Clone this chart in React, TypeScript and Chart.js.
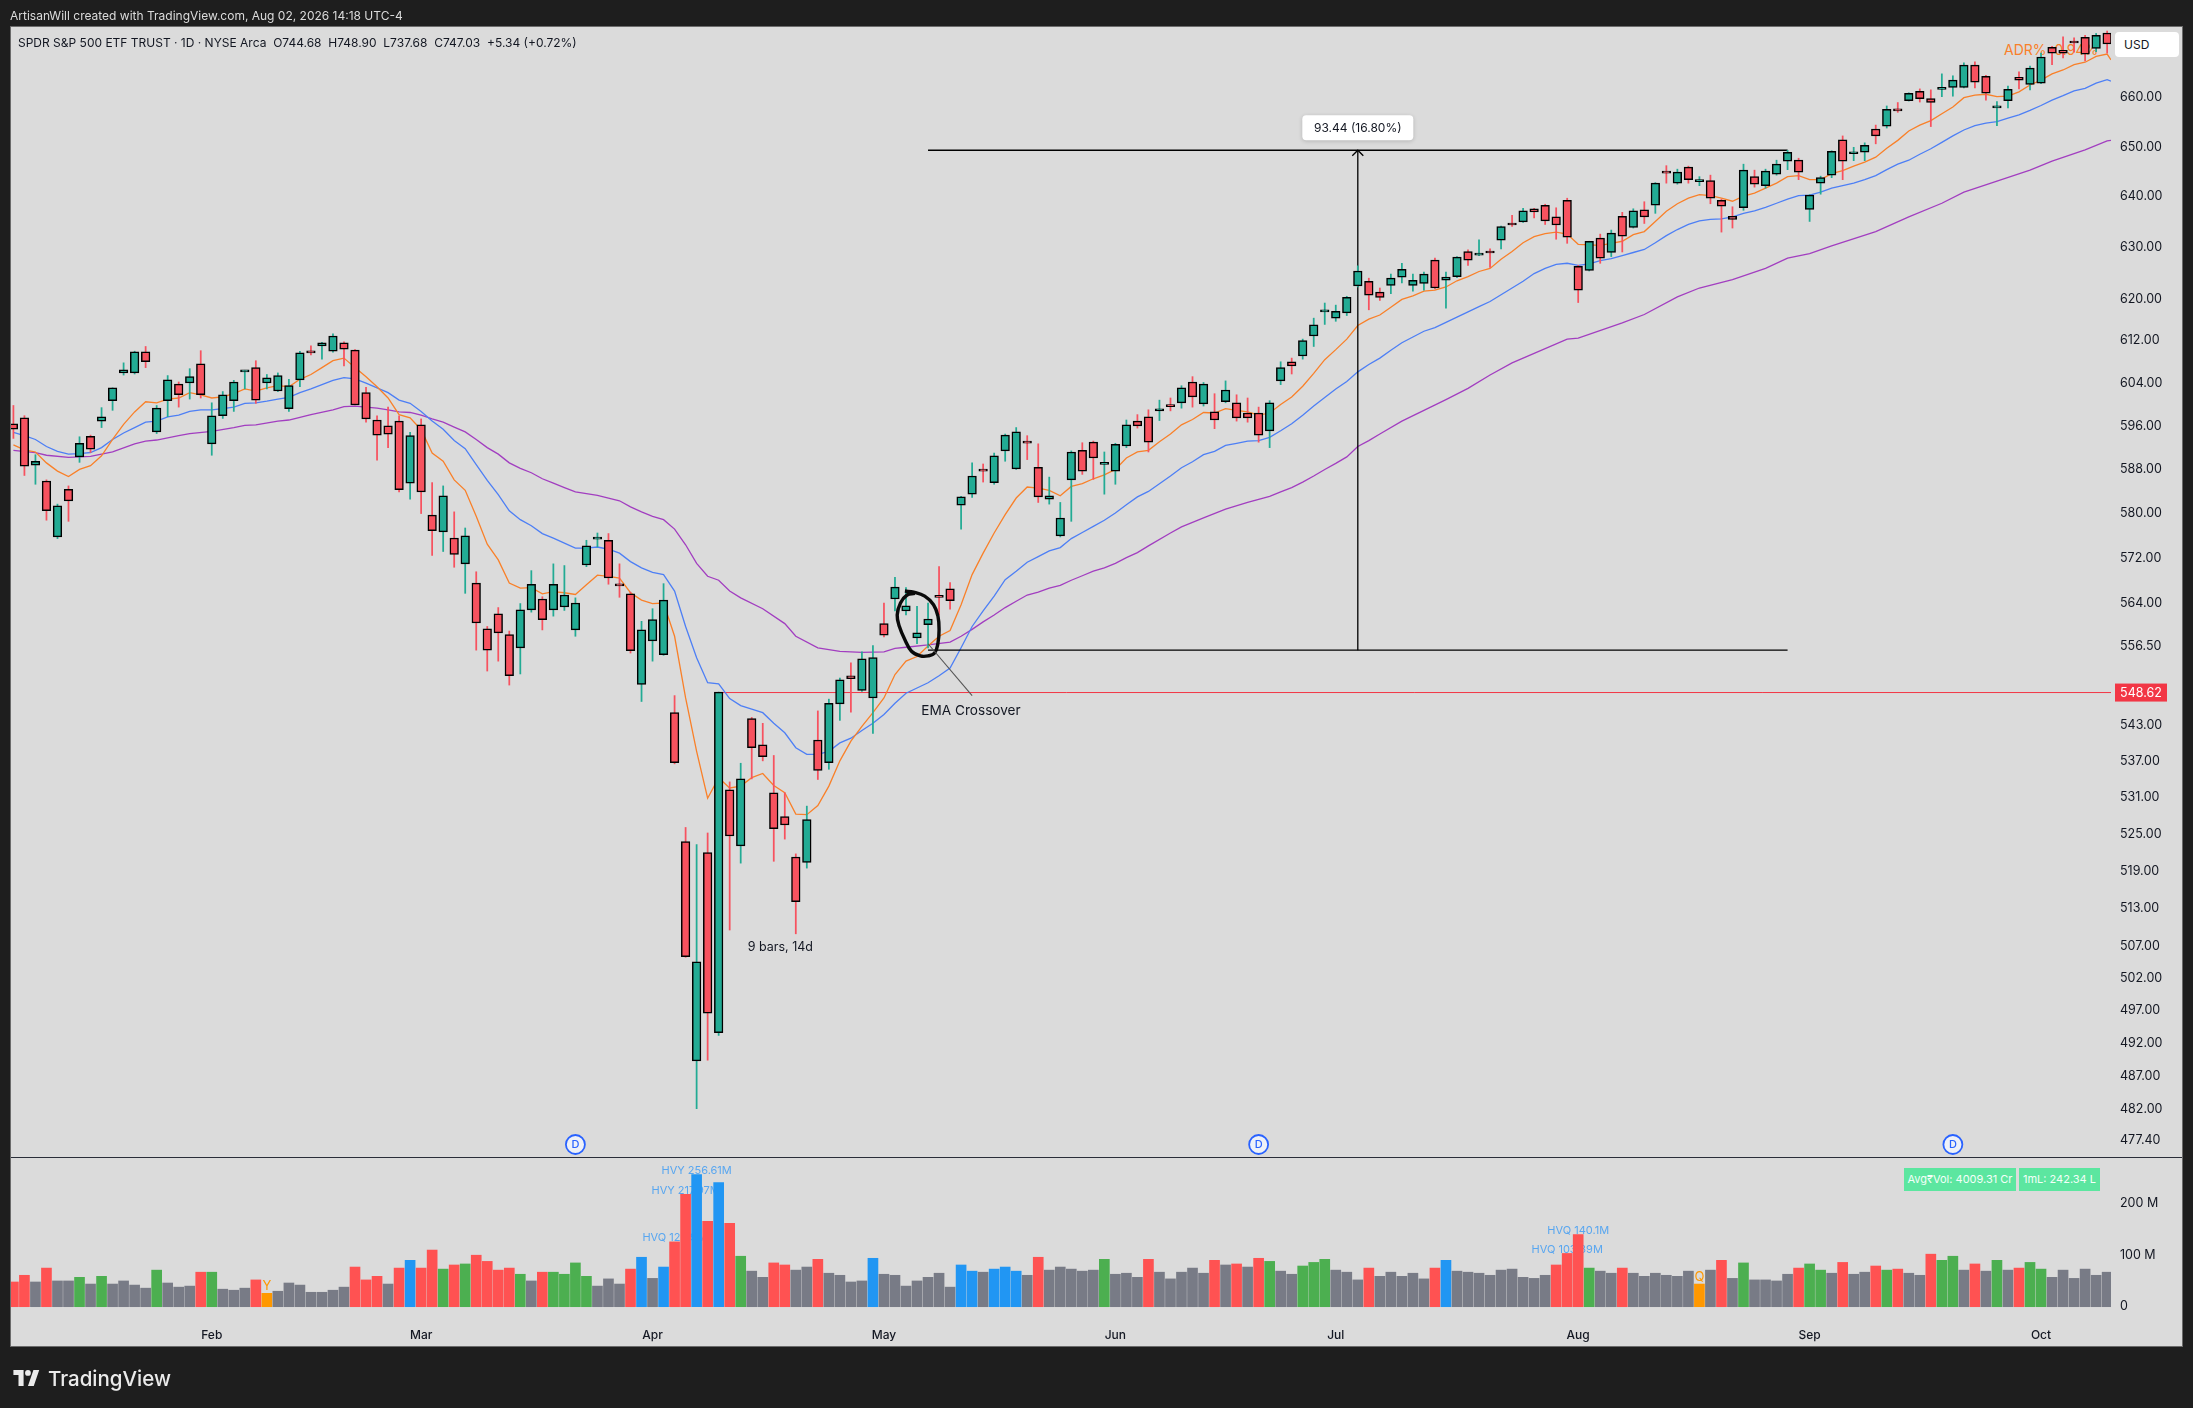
import React, { useEffect, useRef } from "react";
import { Chart, registerables } from "chart.js";

Chart.register(...registerables);

const opens = [
  596.4,597.5,588.8,585.9,575.8,584.4,590.3,594.1,596.9,600.7,
  605.9,605.9,609.9,594.9,600.7,603.8,604,607.6,592.7,597.9,
  600.7,606.1,606.9,604,602.5,599.2,604.6,610,611,610,
  611.6,610.2,602.2,597.1,596,596.9,585.5,596.2,579.7,576.7,
  575.6,571,567.6,559.6,562.2,558.6,556.3,562.9,564.8,562.9,
  563.4,559.4,570.8,575.4,575.2,567.3,565.7,550,557.5,555.1,
  545.2,523.8,489.3,522,493.6,532.3,523.1,544.2,539.8,531.8,
  527.9,521.3,520.4,540.6,536.8,546.7,551.5,549,547.7,560.5,
  564.8,562.7,558,560.3,565.3,566.6,581.5,583.5,587.9,585.6,
  591.4,588.1,593.2,588.4,582.6,576,586.1,591.5,593,588.9,
  587.7,592.3,596.9,597.7,598.8,599.8,600.3,604.2,600.1,598.6,
  600.5,600.3,598.4,598.4,595.1,604.4,608,609.1,612.9,617.5,
  616.3,617.3,622.5,623.4,621.3,622.6,624.2,622.6,623,627.5,
  623.6,624.3,629.2,628.5,629.1,631.4,634.6,635,637.6,638.3,
  636,639.3,626.3,625.5,631.8,629,636.1,633.9,637.4,638.3,
  644.9,642.7,645.9,643,643.2,639.3,636.1,637.8,644,642.2,
  644.5,647.1,647.3,637.5,642.7,644.3,651.4,648.6,648.9,653.6,
  654.2,657.5,659.4,661.3,659.8,661.7,662.1,662.1,666.7,664.4,
  657.9,659.4,664.2,662.7,663,670.4,669.8,671.5,672.5,670.2,
  673.4,
];
const highs = [
  599.8,597.9,590.7,586.1,581.7,585,594,594.3,599.4,603.1,
  607.8,610,610.9,599.8,605.4,604.2,606.7,610.1,600.3,602.4,
  604.5,606.4,608.2,605.6,605.9,604.7,610,611,611.7,613.3,
  611.8,610.3,603.2,597.9,599.5,597.9,594.8,597.3,585.6,585,
  580.3,577.4,569.6,560,563.3,559.2,564,569.8,565.2,571,
  570.7,565,575.2,576.5,576.4,571,566,560.9,563.1,567.5,
  548.1,526.1,523.3,525.2,548.7,533.6,536.7,544.4,543.4,538,
  531.8,521.8,529.6,545.5,547.5,551.1,553.7,555.6,556.7,564.1,
  568.6,566.8,563.5,564.1,570.5,567.7,583.1,589.2,589,591,
  594.5,595.7,594.2,592.7,586.6,582,591.4,592.9,593.2,591.2,
  592.8,597.1,598.1,599,600.8,601.2,603.5,605.2,604.1,602,
  604.4,601.8,601.2,599.5,600.7,608,608.7,612.3,616.3,619.2,
  618.8,620.5,626.4,624,622.1,624.8,626.9,624.8,625.2,627.9,
  625.2,628.2,629.5,631.5,629.7,634.2,636.3,637.7,637.7,638.5,
  637.8,639.7,626.5,631.2,632.6,633.4,636.9,637.6,639,642.8,
  646.2,645.5,646.1,644,644.3,639.5,638,646.5,645.3,645.5,
  647.3,649.3,647.7,640.4,644.1,649.2,652.2,649.9,650.8,654.4,
  658.3,659,661,661.8,661.6,664.9,664.5,667.2,667.4,664.6,
  659.2,662.4,665.3,666.5,669.2,670.6,672.6,672.4,672.9,673.3,
  673.8,
];
const lows = [
  593.7,586.9,585.3,578.8,575.5,578.6,589.3,591.1,595.7,598.9,
  605.5,605.7,606.9,594.6,597.7,599.5,601,601.2,590.6,597.4,
  598.7,602.9,600.2,602.9,602.4,598.7,603.3,609.3,608.5,609.8,
  607.2,599.9,596.7,589.7,592,583.9,582.6,580,572.5,573.2,
  570.4,565.8,555.9,552.3,554,549.9,551.8,562.5,559.4,561.8,
  562.8,558.3,570.5,574,567.4,565.1,555.4,547.1,554,555,
  536.6,505.3,482.1,489.4,493.2,509.6,520.3,534.1,537.1,520.6,
  524.2,509,519.5,534,535.7,543.9,545.3,548.8,541.7,558.2,
  562.7,562,557,556.3,562,563,577.2,582.9,585.7,585.3,
  589.5,588,589.8,582,581.7,575.8,578.6,587.1,586.2,583.5,
  585.3,592,595.6,591.2,597,598.8,599.3,599.5,599.7,595.5,
  600.3,596.9,596.7,593,592,603.7,605.7,608.5,610.9,615.1,
  615.7,616.8,622.3,617.9,619.7,621,623.1,621.5,621.7,621.9,
  618.2,624.1,626.5,628.4,626.1,629.7,634.1,634.9,635.8,634.5,
  631.6,630.8,619.3,625.4,626.9,628.2,629.1,633.8,634.7,636.7,
  642.7,642.5,642.7,642.2,638.6,633,633.8,637.3,641.9,641.7,
  644.3,645.4,643.4,635.1,640.5,643.8,643.4,647.2,647.2,650.6,
  653.8,657,659.3,659.1,654.1,660.2,660.3,662,662,659.5,
  654.3,657.9,661.8,661.6,662.9,666.8,668.2,669.4,667.6,669.5,
  669.2,
];
const closes = [
  595.4,588.6,589.5,580.5,581.4,582.3,592.8,591.7,597.7,603.1,
  606.5,609.9,608,599.3,604.6,601.8,605.2,601.8,597.9,601.8,
  604.2,606.3,600.8,605,605.4,603.5,609.7,609.7,611.6,612.9,
  610.4,599.9,597.3,594.3,594.5,584.3,594.2,583.9,576.9,583.2,
  572.7,576,560.6,555.9,558.9,551.5,562.9,567.4,561.2,567.4,
  565.5,564.1,574.2,575.6,568.5,567.1,555.8,559.4,561.2,564.6,
  536.8,505.4,504.6,496.6,548.7,524.7,534.1,539.3,537.8,525.9,
  526.5,514.1,527.4,535.5,546.8,550.8,551,554.4,554.6,558.5,
  566.9,563.6,558.9,561.3,565.1,564.5,583,586.8,587.7,590.5,
  594.3,594.9,592.8,583,583.2,579.2,591.2,587.7,590.1,589.3,
  592.6,596.2,596,593,599.2,599.6,603.1,601.4,603.8,597.1,
  602.7,597.5,597.5,594.3,600.3,606.9,607.2,612,615,617.8,
  617.6,620.3,625.4,620.7,620.3,624,625.7,623.6,624.8,622.1,
  624.2,628.1,627.5,628.7,628.9,634.1,634.4,637.2,637,635.2,
  634.4,632,621.7,631.2,627.9,632.8,632.2,637.2,636,642.7,
  644.7,644.9,643.4,643.4,639.7,638.1,635.5,645.3,642.5,645.1,
  646.5,648.9,644.9,640.3,643.8,649.1,647.1,648.7,650.3,652.2,
  657.6,657.3,660.9,659.8,659,662.1,663.6,666.7,663.2,660.9,
  658,661.7,663.6,666.1,668.4,669.2,669.2,671.3,669,672.9,
  671.1,
];
const volumes = [
  48,61,48,75,50,50,57,44,59,44,
  50,42,36,71,46,38,40,67,67,34,
  32,36,52,26,30,46,42,28,28,32,
  38,77,52,59,44,75,90,75,110,73,
  81,83,100,88,71,75,63,50,67,67,
  63,85,59,40,54,44,73,96,55,77,
  125.9,217.97,256.61,166,241,162,98,69,57,85,
  81,71,77,92,65,61,48,50,94,63,
  61,40,50,57,65,38,81,69,67,73,
  77,69,61,96,71,77,73,69,71,92,
  63,65,57,92,67,54,67,75,65,90,
  81,83,77,94,88,69,63,79,86,92,
  71,67,52,75,59,67,59,65,54,75,
  90,69,67,65,61,71,73,57,55,61,
  81,103.39,140.1,75,69,65,75,65,59,65,
  61,59,69,44,71,90,55,85,52,52,
  50,63,75,83,71,65,86,63,67,79,
  71,73,65,61,102,90,98,71,83,69,
  90,71,75,86,73,57,71,55,73,61,67,
];
const volumeKinds = (
  "rrnrnngngn" + "nnngnnnrgn" + "nnronnnnnn" + "nrrrnrbrrg" + "rgrrrrgnrg" +
  "gggnnnrbnb" + "rrbrbrgnnr" + "rnnrnnnnbn" + "nnnnnnbbnb" + "bbnrnnnnng" +
  "nnnrnnnnnr" + "nrnrgnnggg" + "nnnrnnnnnr" + "bnnnnnnnnn" + "rrrgnnrnnn" +
  "nnnonrngnn" + "nnrggnrnnr" + "grnnrggnrn" + "gnrggnnnnnn"
).split("");
const emaFast = [
  592.5,591.6,591.2,589.2,587.7,586.7,588,588.7,590.5,593.5,
  596.3,598.6,600.5,600.3,601,601.2,602.2,601.8,601.2,601.4,
  602,602.9,602.5,603.1,603.5,603.3,604.7,605.6,606.9,608.2,
  608.7,606.9,605.2,603.3,601.2,598.1,597.5,595.3,591,589.5,
  586.1,584.2,579.5,574.5,571.7,567.6,566.7,566.8,565.7,566.1,
  565.9,565.6,567.3,569,568.8,568.5,565.9,564.6,564,564.1,
  558.3,547.7,538.7,530.9,534.3,532.6,532.9,534.3,535,533,
  531.8,528.3,528.2,529.7,532.9,537.1,540.4,542.9,545.2,547.7,
  551.7,554,554.8,556.6,558.3,559.3,563.8,569.1,572.9,576.5,
  579.8,582.8,584.8,584.6,584.2,583.2,584.9,585.4,586.3,587,
  588,590.1,591.2,591.5,593.1,594.5,596.2,597.2,598.5,598.4,
  599.2,598.9,598.6,598,598.4,600,601.4,603.4,605.8,608.4,
  610.3,612.3,614.9,616.1,616.9,618.4,619.9,620.6,621.5,621.7,
  622.3,623.5,624.3,625.3,625.9,627.7,629.2,630.9,632.1,632.7,
  633,632.6,630.6,630.5,630.4,630.8,631.2,632.5,633.1,635.1,
  637.1,638.6,639.7,640.4,640.2,639.7,639.1,640.1,640.7,641.7,
  642.7,644,644.2,643.4,643.4,644.6,645.2,646.1,646.9,647.9,
  649.7,651.3,653.2,654.4,655.3,656.7,658.1,660,660.5,660.7,
  660.2,660.3,661.2,662.6,663.6,664.9,665.7,666.8,667.3,668.5,
  669,
];
const emaMid = [
  594.8,594.2,593.5,592.2,591.3,590.8,590.9,591.1,592,593.5,
  594.7,595.7,596.7,596.9,597.7,598,598.7,599,599,599.2,
  599.5,600.2,600.3,600.6,601,601.3,602.2,602.9,603.7,604.5,
  605,604.8,604,603.1,602.2,600.8,600.2,598.7,596.9,595.4,
  593.3,591.8,588.9,586,583.4,580.5,578.9,577.8,576.4,575.6,
  574.7,573.8,573.8,574,573.6,572.9,571.4,570.3,569.5,569.1,
  566.2,560,554.6,550.3,550.1,547.6,546.4,545.8,545.2,543.4,
  541.8,539.3,538.2,538.2,538.7,540.1,540.9,542.2,543.4,544.9,
  546.8,548.5,549.4,550.3,551.5,552.8,556.3,560,562.7,565.3,
  568.2,569.7,571.3,572.3,573.3,573.9,575.5,576.6,577.7,578.8,
  580.1,581.6,583,584,585.4,586.8,588.3,589.4,590.7,591.3,
  592.4,592.8,593.2,593.3,593.9,595.1,596.4,598,599.7,601.3,
  602.9,604.3,606.1,607.5,608.7,610.2,611.6,612.7,613.8,614.5,
  615.5,616.5,617.5,618.5,619.5,620.8,622.1,623.4,624.9,625.9,
  626.7,626.9,626.5,626.8,627.4,627.8,628.4,629,629.6,630.9,
  632.3,633.5,634.5,635.2,635.5,635.6,636,636.7,637.2,637.9,
  638.7,639.5,640.2,640.3,640.9,641.7,642.2,642.7,643.4,644.2,
  645.4,646.5,647.3,648.5,649.6,650.9,652.2,653.4,654.3,654.8,
  655.1,655.8,656.5,657.4,658.4,659.5,660.4,661.4,661.9,663,
  663.7,
];
const emaSlowDays = [
  0,2,3,5,7,9,11,12,13,15,16,18,20,21,22,24,25,27,29,30,31,32,33,34,35,36,37,38,39,40,
  41,42,43,44,45,46,47,48,49,50,51,52,53,54,55,56,57,58,59,60,61,62,63,64,65,66,68,70,71,73,
  75,77,79,80,81,83,85,86,87,88,89,90,91,92,93,94,95,96,97,98,99,100,101,102,103,105,106,108,110,112,
  114,115,116,117,118,119,120,121,122,123,124,126,128,130,132,134,136,137,141,142,146,148,151,153,156,159,161,163,165,169,
  172,175,177,180,183,185,188,190,
];
const emaSlow = [
  591.5,591.1,590.6,590.2,590.4,591.2,592.7,593.2,593.4,594.2,594.6,595,595.7,596.1,596.2,596.9,597.1,598.1,599,599.6,599.7,599.5,599.3,599,598.6,598.5,598,597.3,596.7,595.8,
  594.9,593.5,592,590.8,589.2,588.2,587.4,586.3,585.5,584.7,583.9,583.6,583.3,582.8,582.3,581.2,580.3,579.5,578.9,577.2,574.4,571.1,568.8,568.1,566.2,565,563.1,560.5,558.3,556.3,
  555.7,555.5,555.6,556.2,556.4,556.8,557.3,558.3,559.5,560.8,562,563.3,564.4,565.5,566,566.7,567.2,568.1,568.9,569.7,570.3,571.1,572.1,573,574.2,576.5,577.6,579.2,580.8,582,
  583.1,583.9,584.7,585.7,586.8,588,589.1,590.3,592.2,593.3,594.5,596.9,598.9,600.9,603,605.5,607.8,608.7,612.3,612.5,615.4,617,620.4,622.1,623.7,625.9,627.9,628.8,630.3,633.1,
  636,638.7,640.9,643.1,645.3,647.1,649.4,651.2,
];
const emaTailDay = 190.35;
const emaTail = [667.8, 663.4, 651.3];

const priceTicks = [660,650,640,630,620,612,604,596,588,580,572,564,556.5,543,537,531,525,519,513,507,502,497,492,487,482,477.4];
const volumeTicks = [0,100,200];
const monthDays = [18,37,58,79,100,120,142,163,184];
const monthNames = ["Feb","Mar","Apr","May","Jun","Jul","Aug","Sep","Oct"];

const measureBase = 555.9;
const measureTop = 649.3;
const measureFrom = 83;
const measureTo = 161;
const measureDay = 122;
const measureLabel = "93.44 (16.80%)";
const referencePrice = 548.62;
const referenceFromDay = 64;
const circleDays = [80.9,81.7,82.7,83.5,83.9,84,83.9,83.6,83,82.3,81.5,80.9,80.4,80.2,80.5,81.1,81.8];
const circlePrices = [566.2,566,565.3,563.8,561.8,559.4,557.1,555.4,554.9,554.9,555.7,557.7,560,562,564.1,565.5,565.8];
const calloutDays = [83, 87];
const calloutPrices = [557, 548.1];
const dividendDays = [51,113,176];
const heavyDays = [60,61,62,141,142];
const heavyTexts = ["HVQ 125.9M","HVY 217.97M","HVY 256.61M","HVQ 103.39M","HVQ 140.1M"];
const lightDays = [23,153];
const lightTexts = ["Y","Q"];

const FONT = "Inter, 'Noto Sans', sans-serif";
const UP = "#22ab94";
const DOWN = "#f7525f";
const KIND_COLORS: Record<string, string> = { r: "#ff5252", g: "#4caf50", b: "#2196f3", n: "#787b86", o: "#ff9800" };
const days = opens.map((_, i) => i);

const line = (points: { x: number; y: number }[], color: string, width: number, order: number, extra: any = {}) => ({
  type: "line",
  data: points,
  borderColor: color,
  borderWidth: width,
  pointRadius: 0,
  tension: 0,
  xAxisID: "x",
  yAxisID: "y",
  order,
  ...extra,
});

const annotationsPlugin = {
  id: "annotations",
  beforeDatasetsDraw(chart: any) {
    const { ctx, scales } = chart;
    ctx.save();
    ctx.textAlign = "center";
    ctx.textBaseline = "middle";
    ctx.font = `11px ${FONT}`;
    ctx.fillStyle = "#58a6f0";
    heavyDays.forEach((d, i) => {
      ctx.fillText(heavyTexts[i], scales.x.getPixelForValue(d), scales.v.getPixelForValue(volumes[d]) - 4);
    });
    ctx.font = `13px ${FONT}`;
    ctx.fillStyle = "#ff9800";
    lightDays.forEach((d, i) => {
      ctx.fillText(lightTexts[i], scales.x.getPixelForValue(d), scales.v.getPixelForValue(volumes[d]) - 7);
    });
    ctx.restore();
  },
  afterDatasetsDraw(chart: any) {
    const { ctx, scales } = chart;
    const { x, y } = scales;
    ctx.save();
    ctx.textBaseline = "middle";
    ctx.textAlign = "center";

    const refY = y.getPixelForValue(referencePrice);
    ctx.fillStyle = "#f23645";
    ctx.fillRect(x.right + 4, refY - 9, 52, 18);
    ctx.fillStyle = "#ffffff";
    ctx.font = `12.5px ${FONT}`;
    ctx.fillText(referencePrice.toFixed(2), x.right + 30, refY + 1);

    const mx = x.getPixelForValue(measureDay);
    const my = y.getPixelForValue(measureTop);
    ctx.shadowColor = "rgba(0,0,0,0.18)";
    ctx.shadowBlur = 4;
    ctx.shadowOffsetY = 1;
    ctx.fillStyle = "#ffffff";
    ctx.beginPath();
    ctx.roundRect(mx - 55.5, my - 35, 111, 25, 4);
    ctx.fill();
    ctx.shadowColor = "transparent";
    ctx.fillStyle = "#131722";
    ctx.font = `12px ${FONT}`;
    ctx.fillText(measureLabel, mx, my - 22);

    ctx.font = `12.5px ${FONT}`;
    ctx.fillText("9 bars, 14d", x.getPixelForValue(69.6), y.getPixelForValue(lows[71]) + 13);
    ctx.font = `13.6px ${FONT}`;
    ctx.fillText("EMA Crossover", x.getPixelForValue(86.9), y.getPixelForValue(calloutPrices[1]) + 15.5);

    dividendDays.forEach((d) => {
      const bx = x.getPixelForValue(d);
      const by = y.bottom - 12.5;
      ctx.beginPath();
      ctx.arc(bx, by, 9.5, 0, Math.PI * 2);
      ctx.fillStyle = "#eef1f8";
      ctx.fill();
      ctx.lineWidth = 1.8;
      ctx.strokeStyle = "#2962ff";
      ctx.stroke();
      ctx.fillStyle = "#2962ff";
      ctx.font = `500 11px ${FONT}`;
      ctx.fillText("D", bx, by + 0.5);
    });
    ctx.restore();
  },
};

function TradingViewLogo() {
  return (
    <svg width="29" height="16" viewBox="0 0 36 22" style={{ position: "absolute", left: 12, top: 1370 }}>
      <path fill="#ebebeb" d="M14 22H7V7H0V0h14v22zM28 22h-8l7.5-22h8L28 22z" />
      <circle fill="#ebebeb" cx="20" cy="4" r="4" />
    </svg>
  );
}

export default function App() {
  const canvasRef = useRef<HTMLCanvasElement | null>(null);

  useEffect(() => {
    document.body.style.margin = "0";
    document.body.style.background = "#1e1e1e";
    const canvas = canvasRef.current;
    if (!canvas) return;

    const candleColor = (i: number) => (closes[i] >= opens[i] ? UP : DOWN);
    const fastPts = [...emaFast.map((v, i) => ({ x: i, y: v })), { x: emaTailDay, y: emaTail[0] }];
    const midPts = [...emaMid.map((v, i) => ({ x: i, y: v })), { x: emaTailDay, y: emaTail[1] }];
    const slowPts = [...emaSlow.map((v, i) => ({ x: emaSlowDays[i], y: v })), { x: emaTailDay, y: emaTail[2] }];

    const chart = new Chart(canvas, {
      type: "bar",
      data: {
        datasets: [
          {
            label: "body",
            data: days.map((i) => ({ x: i, y: [opens[i], closes[i]] })),
            backgroundColor: days.map(candleColor),
            borderColor: "#000000",
            borderWidth: 1.5,
            borderSkipped: false,
            barThickness: 8.6,
            minBarLength: 2,
            grouped: false,
            xAxisID: "x",
            yAxisID: "y",
            order: 1,
          },
          {
            label: "wick",
            data: days.map((i) => ({ x: i, y: [lows[i], highs[i]] })),
            backgroundColor: days.map(candleColor),
            borderWidth: 0,
            barThickness: 1.1,
            grouped: false,
            xAxisID: "x",
            yAxisID: "y",
            order: 2,
          },
          {
            label: "volume",
            data: days.map((i) => ({ x: i, y: volumes[i] })),
            backgroundColor: days.map((i) => KIND_COLORS[volumeKinds[i]]),
            borderWidth: 0,
            barThickness: 10,
            grouped: false,
            xAxisID: "x",
            yAxisID: "v",
            order: 3,
          },
          line(fastPts, "#f98029", 1.3, 6),
          line(midPts, "#4d7ff5", 1.3, 7),
          line(slowPts, "#a23ec0", 1.3, 8),
          line([{ x: referenceFromDay, y: referencePrice }, { x: emaTailDay, y: referencePrice }], "#f23645", 1, 9),
          line([{ x: measureFrom, y: measureTop }, { x: measureTo, y: measureTop }], "#000000", 1.3, 5),
          line([{ x: measureFrom, y: measureBase }, { x: measureTo, y: measureBase }], "#000000", 1.3, 5),
          line([{ x: measureDay, y: measureBase }, { x: measureDay, y: measureTop }], "#000000", 1.3, 5),
          line(
            [
              { x: measureDay - 0.5, y: measureTop - 1.1 },
              { x: measureDay, y: measureTop },
              { x: measureDay + 0.5, y: measureTop - 1.1 },
            ],
            "#000000",
            1.3,
            5
          ),
          line(calloutDays.map((d, i) => ({ x: d, y: calloutPrices[i] })), "#555555", 1.1, 0),
          line(circleDays.map((d, i) => ({ x: d, y: circlePrices[i] })), "#0a0a0a", 3.4, 0, { tension: 0.4 }),
        ] as any,
      },
      options: {
        responsive: false,
        animation: false,
        events: [],
        layout: { padding: { left: 11, top: 27, right: 12, bottom: 60 } },
        plugins: { legend: { display: false }, tooltip: { enabled: false }, title: { display: false } },
        scales: {
          x: {
            type: "linear",
            offset: false,
            min: -0.218,
            max: 190.35,
            grid: { display: false, drawTicks: false },
            border: { display: false },
            afterBuildTicks: (s: any) => {
              s.ticks = monthDays.map((v) => ({ value: v }));
            },
            afterFit: (s: any) => {
              s.height = 26;
            },
            ticks: {
              autoSkip: false,
              maxRotation: 0,
              padding: 6,
              color: "#131722",
              font: { family: FONT, size: 12, weight: "500" },
              callback: (v: any) => monthNames[monthDays.indexOf(v)] ?? "",
            },
          },
          y: {
            type: "logarithmic",
            position: "right",
            stack: "panes",
            stackWeight: 1130,
            weight: 0,
            min: 474.9,
            max: 674.65,
            grid: { display: false, drawTicks: false },
            border: { display: false },
            afterBuildTicks: (s: any) => {
              s.ticks = priceTicks.map((v) => ({ value: v }));
            },
            afterFit: (s: any) => {
              s.width = 70;
            },
            ticks: {
              autoSkip: false,
              padding: 9,
              color: "#131722",
              font: { family: FONT, size: 12.5 },
              callback: (v: any) => Number(v).toFixed(2),
            },
          },
          v: {
            type: "linear",
            position: "right",
            stack: "panes",
            stackWeight: 165,
            weight: 1,
            min: -29.7,
            max: 290.7,
            grid: { display: false, drawTicks: false },
            border: { display: false },
            afterBuildTicks: (s: any) => {
              s.ticks = volumeTicks.map((v) => ({ value: v }));
            },
            afterFit: (s: any) => {
              s.width = 70;
            },
            ticks: {
              autoSkip: false,
              padding: 9,
              color: "#131722",
              font: { family: FONT, size: 12.5 },
              callback: (v: any) => (Number(v) === 0 ? "0" : `${v} M`),
            },
          },
        },
      } as any,
      plugins: [annotationsPlugin],
    });
    return () => chart.destroy();
  }, []);

  const txt = (style: React.CSSProperties): React.CSSProperties => ({
    position: "absolute",
    fontFamily: FONT,
    fontSize: 12,
    whiteSpace: "pre",
    lineHeight: "14px",
    ...style,
  });

  return (
    <div style={{ position: "relative", width: 2193, height: 1408, background: "#1e1e1e", overflow: "hidden" }}>
      <div style={{ position: "absolute", left: 10, top: 26, width: 2173, height: 1321, boxSizing: "border-box", background: "#dbdbdb", border: "1px solid #6b6b6b" }} />
      <div style={txt({ left: 2004, top: 41, color: "#f98029", fontSize: 14, lineHeight: "17px" })}>ADR%  0.94%</div>
      <canvas ref={canvasRef} width={2193} height={1408} style={{ position: "absolute", left: 0, top: 0, display: "block" }} />
      <div style={{ position: "absolute", left: 11, top: 1156.5, width: 2171, height: 1.5, background: "#2a2e39" }} />
      <div style={txt({ left: 10, top: 9, color: "#dbdbdb" })}>ArtisanWill created with TradingView.com, Aug 02, 2026 14:18 UTC-4</div>
      <div style={txt({ left: 18, top: 36, color: "#131722" })}>SPDR S&amp;P 500 ETF TRUST · 1D · NYSE Arca  O744.68  H748.90  L737.68  C747.03  +5.34 (+0.72%)</div>
      <div style={txt({ left: 2115, top: 32, width: 64, height: 25, lineHeight: "25px", background: "#ffffff", borderRadius: 4, paddingLeft: 9, boxSizing: "border-box", color: "#131722" })}>USD</div>
      <div style={txt({ left: 1904, top: 1168, width: 112, height: 23, lineHeight: "23px", background: "#5ce6a0", color: "#f4fff9", fontSize: 11, textAlign: "center" })}>Avg₹Vol: 4009.31 Cr</div>
      <div style={txt({ left: 2019, top: 1168, width: 81, height: 23, lineHeight: "23px", background: "#5ce6a0", color: "#f4fff9", fontSize: 11, textAlign: "center" })}>1mL: 242.34 L</div>
      <TradingViewLogo />
      <div style={txt({ left: 48, top: 1366, color: "#ebebeb", fontSize: 20.5, lineHeight: "25px", fontWeight: 500 })}>TradingView</div>
    </div>
  );
}
